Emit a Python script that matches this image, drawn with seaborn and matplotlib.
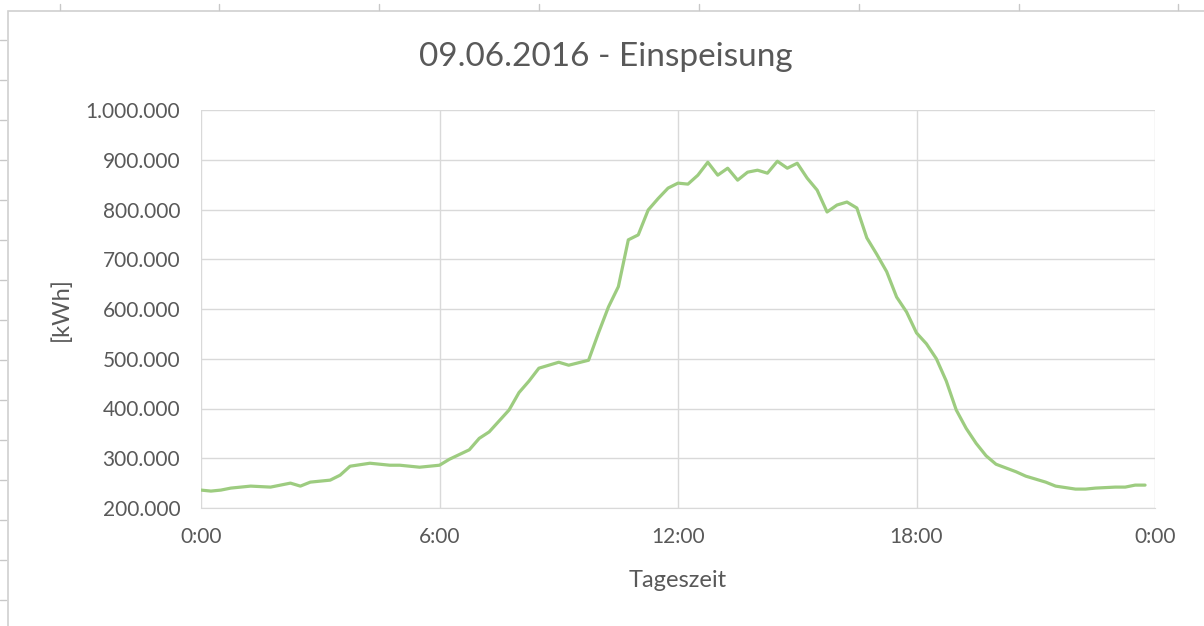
import matplotlib
matplotlib.use("Agg")
import matplotlib.pyplot as plt
from matplotlib.ticker import FuncFormatter, FixedLocator
from matplotlib.lines import Line2D
from matplotlib.patches import Rectangle
import pandas as pd
import seaborn as sns

# Tageszeit (hh:mm) und Einspeisung [kWh]
zeit = ["0:00", "0:15", "0:30", "0:45", "1:15", "1:45", "2:15", "2:30", "2:45", "3:15",
        "3:30", "3:45", "4:15", "4:45", "5:00", "5:15", "5:30", "6:00", "6:15", "6:45",
        "7:00", "7:15", "7:45", "8:00", "8:15", "8:30", "9:00", "9:15", "9:30", "9:45",
        "10:00", "10:15", "10:30", "10:45", "11:00", "11:15", "11:30", "11:45", "12:00", "12:15",
        "12:30", "12:45", "13:00", "13:15", "13:30", "13:45", "14:00", "14:15", "14:30", "14:45",
        "15:00", "15:15", "15:30", "15:45", "16:00", "16:15", "16:30", "16:45", "17:00", "17:15",
        "17:30", "17:45", "18:00", "18:15", "18:30", "18:45", "19:00", "19:15", "19:30", "19:45",
        "20:00", "20:30", "20:45", "21:15", "21:30", "22:00", "22:15", "22:30", "23:00", "23:15",
        "23:30", "23:45"]
einspeisung = [236000, 234000, 236000, 240000, 244000, 242000, 250000, 244000, 252000, 256000,
               266000, 284000, 290000, 286000, 286000, 284000, 282000, 286000, 298000, 317000,
               340000, 353000, 397000, 432000, 455000, 481000, 493000, 487000, 492000, 497000,
               552000, 604000, 645000, 739000, 749000, 799000, 822000, 843000, 853000, 851000,
               869000, 895000, 869000, 883000, 859000, 875000, 879000, 873000, 897000, 883000,
               893000, 863000, 839000, 795000, 809000, 815000, 803000, 743000, 710000, 675000,
               624000, 594000, 552000, 530000, 500000, 455000, 397000, 360000, 330000, 305000,
               288000, 273000, 264000, 252000, 244000, 238000, 238000, 240000, 242000, 242000,
               246000, 246000]

x_ticks = [0, 6, 12, 18, 24]
x_labels = ["0:00", "6:00", "12:00", "18:00", "0:00"]
y_ticks = [200000, 300000, 400000, 500000, 600000, 700000, 800000, 900000, 1000000]

df = pd.DataFrame({"zeit": zeit, "kwh": einspeisung})
df["stunde"] = df["zeit"].apply(lambda s: int(s.split(":")[0]) + int(s.split(":")[1]) / 60)

sns.set_style("white")
plt.rcParams["font.family"] = ["Lato", "DejaVu Sans"]
text_col = "#595959"
grid_col = "#d9d9d9"

fig = plt.figure(figsize=(12.04, 6.26), dpi=100)
ax = fig.add_axes([201 / 1204, 1 - 508 / 626, (1155 - 201) / 1204, (508 - 110) / 626])

sns.lineplot(data=df, x="stunde", y="kwh", ax=ax, color="#9dcc80", linewidth=2.3)

ax.set_xlim(0, 24)
ax.set_ylim(200000, 1000000)
ax.xaxis.set_major_locator(FixedLocator(x_ticks))
ax.set_xticklabels(x_labels)
ax.yaxis.set_major_locator(FixedLocator(y_ticks))
ax.yaxis.set_major_formatter(FuncFormatter(lambda v, p: f"{int(v):,}".replace(",", ".")))
ax.grid(True, color=grid_col, linewidth=1)
for s in ["top", "right", "left"]:
    ax.spines[s].set_visible(False)
ax.spines["bottom"].set_color(grid_col)
ax.tick_params(axis="both", length=0, labelsize=15, labelcolor=text_col)
ax.tick_params(axis="x", pad=14)
ax.tick_params(axis="y", pad=15)

ax.set_xlabel("Tageszeit", fontsize=17, color=text_col)
ax.set_ylabel("[kWh]", fontsize=17, color=text_col)
ax.xaxis.set_label_coords(0.5, -0.157)
ax.yaxis.set_label_coords(-0.135, 0.5)
fig.text(606 / 1204, 1 - 57 / 626, "09.06.2016 - Einspeisung", ha="center", va="center",
         fontsize=24, color=text_col)

# Diagrammrahmen und Tabellenraster (Excel)
fig.patches.append(Rectangle((8 / 1204, -0.1), 1.2, 1 - 11 / 626 + 0.1, transform=fig.transFigure,
                             fill=False, edgecolor="#d0d0d0", linewidth=1.2))
for px in [60, 219, 379, 539, 699, 859, 1019, 1178]:
    fig.lines.append(Line2D([px / 1204] * 2, [1 - 4 / 626, 1 - 10 / 626], transform=fig.transFigure,
                            color="#c8c8c8", linewidth=1))
for py in range(40, 626, 40):
    fig.lines.append(Line2D([0, 6 / 1204], [1 - py / 626] * 2, transform=fig.transFigure,
                            color="#c8c8c8", linewidth=1))

fig.savefig("out.png", dpi=100, facecolor="white")
